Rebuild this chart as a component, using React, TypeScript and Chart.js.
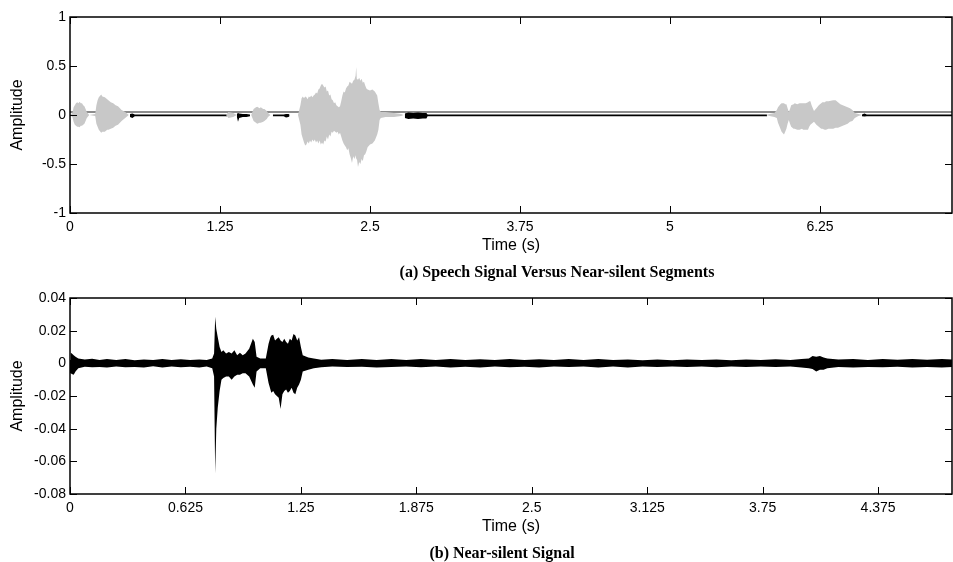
import React, { useEffect, useRef } from 'react';
import { Chart, registerables } from 'chart.js';
Chart.register(...registerables);

// ---------- Panel (a): speech signal vs near-silent segments ----------
// [time (s), upper envelope, lower envelope]
const speechEnvelope: [number, number, number][] = [
  [0, 0, 0], [0.02, 0.02, -0.02], [0.03, 0.08, -0.07], [0.04, 0.1, -0.1], [0.05, 0.12, -0.11], [0.06, 0.13, -0.12],
  [0.07, 0.12, -0.12], [0.08, 0.135, -0.125], [0.09, 0.12, -0.11], [0.1, 0.12, -0.11], [0.11, 0.1, -0.1],
  [0.12, 0.09, -0.09], [0.13, 0.06, -0.06], [0.14, 0.03, -0.03], [0.16, 0, 0],
  [0.21, 0.01, -0.01], [0.22, 0.1, -0.09], [0.23, 0.15, -0.12], [0.24, 0.18, -0.15], [0.26, 0.21, -0.18],
  [0.27, 0.19, -0.17], [0.29, 0.18, -0.17], [0.31, 0.16, -0.15], [0.32, 0.15, -0.15], [0.34, 0.13, -0.14],
  [0.36, 0.12, -0.13], [0.38, 0.1, -0.11], [0.4, 0.09, -0.1], [0.43, 0.05, -0.06], [0.46, 0.03, -0.03], [0.49, 0, 0],
  [1.3, 0, 0], [1.32, 0.03, -0.03], [1.36, 0.02, -0.02], [1.39, 0, 0],
  [1.51, 0, 0], [1.52, 0.03, -0.03], [1.53, 0.06, -0.06], [1.55, 0.08, -0.08], [1.56, 0.085, -0.09],
  [1.58, 0.07, -0.08], [1.59, 0.08, -0.08], [1.61, 0.06, -0.07], [1.62, 0.06, -0.06], [1.64, 0.04, -0.04],
  [1.65, 0.02, -0.02], [1.67, 0, 0],
  [1.9, 0, 0], [1.92, 0.1, -0.1], [1.93, 0.17, -0.2], [1.94, 0.19, -0.24], [1.95, 0.17, -0.28], [1.96, 0.19, -0.31],
  [1.97, 0.18, -0.3], [1.98, 0.16, -0.27], [1.99, 0.19, -0.29], [2.0, 0.18, -0.26], [2.01, 0.2, -0.28],
  [2.02, 0.18, -0.25], [2.03, 0.2, -0.27], [2.04, 0.21, -0.25], [2.05, 0.23, -0.28], [2.06, 0.22, -0.26],
  [2.07, 0.26, -0.29], [2.08, 0.27, -0.26], [2.09, 0.3, -0.3], [2.1, 0.32, -0.28], [2.11, 0.3, -0.3],
  [2.12, 0.28, -0.26], [2.13, 0.29, -0.27], [2.14, 0.24, -0.22], [2.15, 0.25, -0.25], [2.16, 0.2, -0.2],
  [2.17, 0.21, -0.22], [2.18, 0.16, -0.17], [2.19, 0.15, -0.18], [2.2, 0.12, -0.16], [2.21, 0.13, -0.17],
  [2.22, 0.1, -0.18], [2.23, 0.09, -0.17], [2.24, 0.08, -0.2], [2.25, 0.09, -0.18], [2.26, 0.14, -0.22],
  [2.27, 0.2, -0.26], [2.28, 0.24, -0.29], [2.29, 0.23, -0.31], [2.3, 0.27, -0.33], [2.31, 0.29, -0.36],
  [2.32, 0.3, -0.34], [2.33, 0.34, -0.4], [2.34, 0.33, -0.44], [2.35, 0.32, -0.49], [2.36, 0.35, -0.42],
  [2.37, 0.36, -0.45], [2.38, 0.4, -0.41], [2.385, 0.49, -0.46], [2.39, 0.37, -0.44], [2.4, 0.36, -0.53],
  [2.41, 0.38, -0.48], [2.42, 0.35, -0.5], [2.43, 0.37, -0.45], [2.44, 0.33, -0.47], [2.45, 0.34, -0.41],
  [2.46, 0.3, -0.4], [2.47, 0.27, -0.37], [2.48, 0.26, -0.33], [2.5, 0.25, -0.3], [2.52, 0.26, -0.29],
  [2.54, 0.24, -0.26], [2.56, 0.2, -0.2], [2.57, 0.12, -0.15], [2.58, 0.05, -0.05], [2.59, 0.03, -0.03],
  [2.63, 0.03, -0.02], [2.7, 0.02, -0.02], [2.76, 0.01, -0.01], [2.78, 0, 0],
  [5.8, 0, 0], [5.83, 0.01, -0.01], [5.87, 0.02, -0.02], [5.89, 0.05, -0.03], [5.9, 0.08, -0.08],
  [5.92, 0.11, -0.14], [5.93, 0.12, -0.17], [5.95, 0.12, -0.2], [5.96, 0.11, -0.17], [5.97, 0.11, -0.14],
  [5.98, 0.07, -0.09], [5.99, 0.03, -0.05], [6.0, 0.06, -0.09], [6.01, 0.1, -0.12], [6.03, 0.11, -0.14],
  [6.04, 0.12, -0.14], [6.06, 0.11, -0.15], [6.08, 0.12, -0.15], [6.1, 0.12, -0.14], [6.11, 0.12, -0.15],
  [6.13, 0.12, -0.15], [6.15, 0.13, -0.15], [6.16, 0.14, -0.12], [6.17, 0.14, -0.1], [6.18, 0.1, -0.09],
  [6.2, 0.04, -0.07], [6.22, 0.07, -0.1], [6.24, 0.1, -0.12], [6.26, 0.12, -0.14], [6.27, 0.13, -0.14],
  [6.29, 0.13, -0.15], [6.3, 0.14, -0.15], [6.32, 0.14, -0.14], [6.34, 0.145, -0.14], [6.36, 0.15, -0.14],
  [6.38, 0.15, -0.13], [6.4, 0.13, -0.13], [6.42, 0.11, -0.12], [6.44, 0.1, -0.11], [6.46, 0.09, -0.1],
  [6.48, 0.08, -0.09], [6.5, 0.07, -0.07], [6.52, 0.05, -0.06], [6.54, 0.02, -0.03], [6.57, 0.01, -0.01],
  [6.6, 0, 0], [7.35, 0, 0],
];
// near-silent segments (black); null = no segment
const silentEnvelope: [number, number | null, number | null][] = [
  [0.5, 0.01, -0.02], [0.52, 0.015, -0.03], [0.54, 0.004, -0.014], [1.31, 0.004, -0.014], [1.35, null, null],
  [1.39, 0.01, -0.015], [1.4, 0.02, -0.07], [1.41, 0.015, -0.03], [1.44, 0.01, -0.02], [1.47, 0.01, -0.02],
  [1.5, 0.004, -0.014], [1.6, null, null],
  [1.69, 0.004, -0.014], [1.78, 0.004, -0.014], [1.8, 0.01, -0.025], [1.82, 0.01, -0.02], [1.83, 0.004, -0.014],
  [2.3, null, null],
  [2.79, 0.015, -0.03], [2.82, 0.025, -0.04], [2.86, 0.02, -0.035], [2.9, 0.025, -0.04], [2.94, 0.02, -0.035],
  [2.97, 0.02, -0.035], [2.98, 0.004, -0.014], [5.81, 0.004, -0.014], [6.2, null, null],
  [6.6, 0.004, -0.014], [6.62, 0.015, -0.015], [6.64, 0.004, -0.014], [7.35, 0.004, -0.014],
];
const thresholdLevel = 0.03;
const topXMax = 7.35;
const topXTicks = [0, 1.25, 2.5, 3.75, 5, 6.25];
const topXTickLabels = ['0', '1.25', '2.5', '3.75', '5', '6.25'];
const topYTicks = [-1, -0.5, 0, 0.5, 1];
const topYTickLabels = ['-1', '-0.5', '0', '0.5', '1'];
const topCaption = '(a) Speech Signal Versus Near-silent Segments';

// ---------- Panel (b): near-silent signal ----------
const nearSilentEnvelope: [number, number, number][] = [
  [0, 0.002, -0.002], [0.004, 0.0065, -0.006], [0.01, 0.006, -0.0065], [0.02, 0.005, -0.007], [0.03, 0.004, -0.005],
  [0.045, 0.003, -0.003], [0.08, 0.0024, -0.0021], [0.12, 0.0028, -0.0024], [0.16, 0.002, -0.0022],
  [0.2, 0.0026, -0.0025], [0.25, 0.0021, -0.0019], [0.3, 0.0027, -0.0024], [0.35, 0.0019, -0.0022],
  [0.4, 0.0024, -0.0026], [0.45, 0.002, -0.0018], [0.5, 0.0026, -0.0025], [0.55, 0.0021, -0.002],
  [0.6, 0.0025, -0.0024], [0.65, 0.002, -0.0021], [0.7, 0.0024, -0.0026], [0.74, 0.002, -0.002],
  [0.77, 0.003, -0.003], [0.78, 0.006, -0.008], [0.786, 0.0285, -0.0675], [0.792, 0.021, -0.04],
  [0.8, 0.016, -0.027], [0.81, 0.01, -0.017], [0.82, 0.007, -0.01], [0.83, 0.008, -0.009], [0.845, 0.006, -0.008],
  [0.86, 0.007, -0.008], [0.875, 0.006, -0.01], [0.89, 0.008, -0.008], [0.905, 0.005, -0.007],
  [0.92, 0.0065, -0.007], [0.935, 0.005, -0.006], [0.95, 0.006, -0.006], [0.97, 0.009, -0.008],
  [0.99, 0.015, -0.013], [1.0, 0.013, -0.015], [1.01, 0.004, -0.005], [1.03, 0.003, -0.003], [1.06, 0.003, -0.003],
  [1.075, 0.012, -0.012], [1.085, 0.016, -0.016], [1.09, 0.017, -0.018], [1.1, 0.0175, -0.017], [1.11, 0.014, -0.019],
  [1.12, 0.015, -0.02], [1.13, 0.016, -0.021], [1.14, 0.014, -0.028], [1.15, 0.013, -0.019], [1.16, 0.015, -0.017],
  [1.17, 0.013, -0.016], [1.18, 0.012, -0.018], [1.19, 0.015, -0.017], [1.2, 0.014, -0.015], [1.21, 0.018, -0.018],
  [1.22, 0.017, -0.019], [1.23, 0.014, -0.015], [1.24, 0.016, -0.013], [1.25, 0.01, -0.01],
  [1.26, 0.005, -0.005], [1.29, 0.0035, -0.004], [1.32, 0.003, -0.003], [1.36, 0.0022, -0.0024],
  [1.42, 0.0027, -0.002], [1.5, 0.002, -0.0023], [1.58, 0.0026, -0.0021], [1.66, 0.0021, -0.0025],
  [1.74, 0.0027, -0.0022], [1.82, 0.002, -0.002], [1.9, 0.0026, -0.0024], [1.98, 0.0021, -0.002],
  [2.06, 0.0027, -0.0025], [2.14, 0.002, -0.0021], [2.22, 0.0025, -0.0026], [2.3, 0.0021, -0.002],
  [2.38, 0.0026, -0.0024], [2.46, 0.002, -0.0021], [2.54, 0.0025, -0.0025], [2.62, 0.0021, -0.002],
  [2.7, 0.0026, -0.0023], [2.78, 0.002, -0.002], [2.86, 0.0027, -0.0025], [2.94, 0.0021, -0.002],
  [3.02, 0.0023, -0.0025], [3.1, 0.0019, -0.0019], [3.18, 0.0024, -0.0023], [3.26, 0.0019, -0.002],
  [3.34, 0.0023, -0.0022], [3.42, 0.002, -0.0019], [3.5, 0.0024, -0.0024], [3.58, 0.0019, -0.002],
  [3.66, 0.0023, -0.0022], [3.74, 0.002, -0.002], [3.82, 0.0025, -0.0023], [3.9, 0.0021, -0.002],
  [3.96, 0.0027, -0.0025], [4.0, 0.003, -0.003], [4.02, 0.0045, -0.0035], [4.04, 0.004, -0.005],
  [4.06, 0.0045, -0.004], [4.08, 0.0035, -0.004], [4.1, 0.003, -0.003], [4.16, 0.0024, -0.0022],
  [4.24, 0.0027, -0.0025], [4.32, 0.0021, -0.0022], [4.4, 0.0026, -0.0024], [4.48, 0.0022, -0.0021],
  [4.56, 0.0027, -0.0025], [4.64, 0.0022, -0.0023], [4.72, 0.0027, -0.0026], [4.775, 0.0024, -0.0023],
];
const bottomXMax = 4.775;
const bottomXTicks = [0, 0.625, 1.25, 1.875, 2.5, 3.125, 3.75, 4.375];
const bottomXTickLabels = ['0', '0.625', '1.25', '1.875', '2.5', '3.125', '3.75', '4.375'];
const bottomYTicks = [-0.08, -0.06, -0.04, -0.02, 0, 0.02, 0.04];
const bottomYTickLabels = ['-0.08', '-0.06', '-0.04', '-0.02', '0', '0.02', '0.04'];
const bottomCaption = '(b) Near-silent Signal';

const SANS = '"Liberation Sans", Arial, sans-serif';
const SERIF = '"Liberation Serif", "Times New Roman", serif';

function envelopeDatasets(env: [number, number | null, number | null][], color: string) {
  return [
    {
      data: env.map((p) => ({ x: p[0], y: p[1] })),
      borderWidth: 0,
      borderColor: color,
      backgroundColor: color,
      pointRadius: 0,
      fill: '+1',
      spanGaps: false,
      tension: 0,
    },
    {
      data: env.map((p) => ({ x: p[0], y: p[2] })),
      borderWidth: 0,
      borderColor: color,
      backgroundColor: color,
      pointRadius: 0,
      fill: false,
      spanGaps: false,
      tension: 0,
    },
  ];
}

function makeConfig(p: {
  datasets: any[];
  xMax: number;
  xTicks: number[];
  xLabels: string[];
  yTicks: number[];
  yLabels: string[];
  caption: string;
  captionX: number;
}) {
  const yMin = p.yTicks[0];
  const yMax = p.yTicks[p.yTicks.length - 1];
  const boxPlugin = {
    id: 'matlabBox',
    afterDraw(chart: any) {
      const { ctx, chartArea: a, scales } = chart;
      ctx.save();
      ctx.strokeStyle = '#000';
      ctx.lineWidth = 1;
      const tl = 7;
      ctx.beginPath();
      scales.x.ticks.forEach((t: any) => {
        const px = Math.round(scales.x.getPixelForValue(t.value)) + 0.5;
        ctx.moveTo(px, a.bottom);
        ctx.lineTo(px, a.bottom - tl);
        ctx.moveTo(px, a.top);
        ctx.lineTo(px, a.top + tl);
      });
      scales.y.ticks.forEach((t: any) => {
        const py = Math.round(scales.y.getPixelForValue(t.value)) + 0.5;
        ctx.moveTo(a.left, py);
        ctx.lineTo(a.left + tl, py);
        ctx.moveTo(a.right, py);
        ctx.lineTo(a.right - tl, py);
      });
      ctx.stroke();
      ctx.lineWidth = 1.5;
      ctx.strokeRect(a.left, a.top, a.right - a.left, a.bottom - a.top);
      ctx.fillStyle = '#000';
      ctx.font = 'bold 16px ' + SERIF;
      ctx.textAlign = 'center';
      ctx.textBaseline = 'middle';
      ctx.fillText(p.caption, p.captionX, 273);
      ctx.restore();
    },
  };
  return {
    type: 'line',
    data: { datasets: p.datasets },
    options: {
      animation: false,
      responsive: false,
      events: [],
      layout: { padding: { top: 17, right: 1, left: 0, bottom: 0 } },
      plugins: { legend: { display: false }, tooltip: { enabled: false }, title: { display: false } },
      scales: {
        x: {
          type: 'linear',
          min: 0,
          max: p.xMax,
          grid: { display: false, drawTicks: false },
          border: { display: false },
          afterBuildTicks: (s: any) => {
            s.ticks = p.xTicks.map((v) => ({ value: v }));
          },
          afterFit: (s: any) => {
            s.height = 68;
          },
          ticks: {
            autoSkip: false,
            maxRotation: 0,
            padding: 6,
            color: '#000',
            font: { family: SANS, size: 14 },
            callback: (v: number) => {
              const i = p.xTicks.findIndex((t) => Math.abs(t - v) < 1e-9);
              return i >= 0 ? p.xLabels[i] : '';
            },
          },
          title: {
            display: true,
            text: 'Time (s)',
            color: '#000',
            font: { family: SANS, size: 16 },
            padding: { top: 0, bottom: 26 },
          },
        },
        y: {
          type: 'linear',
          min: yMin,
          max: yMax,
          grid: { display: false, drawTicks: false },
          border: { display: false },
          afterBuildTicks: (s: any) => {
            s.ticks = p.yTicks.map((v) => ({ value: v }));
          },
          afterFit: (s: any) => {
            s.width = 70;
          },
          ticks: {
            autoSkip: false,
            padding: 4,
            color: '#000',
            font: { family: SANS, size: 14 },
            callback: (v: number) => {
              const i = p.yTicks.findIndex((t) => Math.abs(t - v) < 1e-9);
              return i >= 0 ? p.yLabels[i] : '';
            },
          },
          title: {
            display: true,
            text: 'Amplitude',
            color: '#000',
            font: { family: SANS, size: 16 },
            padding: { top: 8, bottom: 0 },
          },
        },
      },
    },
    plugins: [boxPlugin],
  } as any;
}

function ChartPanel({ config }: { config: any }) {
  const ref = useRef<HTMLCanvasElement | null>(null);
  useEffect(() => {
    if (!ref.current) return;
    const chart = new Chart(ref.current, config);
    return () => chart.destroy();
  }, [config]);
  return <canvas ref={ref} width={953} height={281} style={{ display: 'block', width: 953, height: 281 }} />;
}

const topConfig = makeConfig({
  datasets: [
    ...envelopeDatasets(speechEnvelope, 'rgb(200,200,200)'),
    ...envelopeDatasets(silentEnvelope, '#000'),
    {
      data: [
        { x: 0, y: thresholdLevel },
        { x: topXMax, y: thresholdLevel },
      ],
      borderColor: '#8c8c8c',
      borderWidth: 2,
      pointRadius: 0,
      fill: false,
    },
  ],
  xMax: topXMax,
  xTicks: topXTicks,
  xLabels: topXTickLabels,
  yTicks: topYTicks,
  yLabels: topYTickLabels,
  caption: topCaption,
  captionX: 557,
});

const bottomConfig = makeConfig({
  datasets: envelopeDatasets(nearSilentEnvelope, '#000'),
  xMax: bottomXMax,
  xTicks: bottomXTicks,
  xLabels: bottomXTickLabels,
  yTicks: bottomYTicks,
  yLabels: bottomYTickLabels,
  caption: bottomCaption,
  captionX: 502,
});

export default function App() {
  return (
    <div style={{ position: 'absolute', left: 0, top: 0, width: 953, height: 562, background: '#fff' }}>
      <ChartPanel config={topConfig} />
      <ChartPanel config={bottomConfig} />
    </div>
  );
}
